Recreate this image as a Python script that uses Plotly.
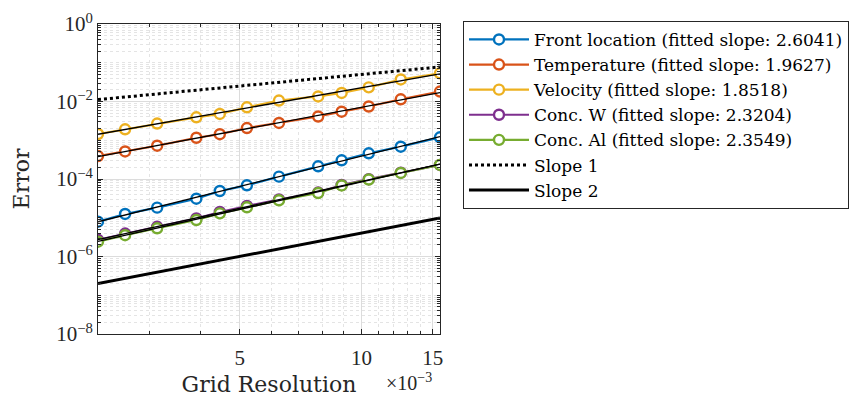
import numpy as np
import plotly.graph_objects as go

# ---------------- data ----------------
grid_N = [448, 384, 320, 256, 224, 192, 160, 128, 112, 96, 80, 64]
grid_h = [1.0 / n for n in grid_N]

front_err = [7.9e-6, 1.25e-5, 1.82e-5, 3.10e-5, 4.90e-5, 6.87e-5, 1.15e-4, 2.13e-4, 3.04e-4, 4.61e-4, 6.82e-4, 1.19e-3]
temp_err = [3.92e-4, 5.13e-4, 7.23e-4, 1.16e-3, 1.43e-3, 2.07e-3, 2.79e-3, 4.10e-3, 5.46e-3, 7.43e-3, 1.14e-2, 1.81e-2]
vel_err = [1.45e-3, 1.92e-3, 2.70e-3, 3.91e-3, 4.76e-3, 7.08e-3, 1.06e-2, 1.35e-2, 1.66e-2, 2.32e-2, 3.70e-2, 5.34e-2]
concW_err = [2.70e-6, 3.92e-6, 5.84e-6, 9.57e-6, 1.41e-5, 2.01e-5, 2.96e-5, 4.48e-5, 7.00e-5, 9.88e-5, 1.46e-4, 2.30e-4]
concAl_err = [2.41e-6, 3.55e-6, 5.35e-6, 8.75e-6, 1.30e-5, 1.86e-5, 2.82e-5, 4.35e-5, 6.80e-5, 9.70e-5, 1.43e-4, 2.30e-4]

series_names = [
    "Front location (fitted slope: 2.6041)",
    "Temperature (fitted slope: 1.9627)",
    "Velocity (fitted slope: 1.8518)",
    "Conc. W (fitted slope: 2.3204)",
    "Conc. Al (fitted slope: 2.3549)",
]
series_colors = ["#0072BD", "#D95319", "#EDB120", "#7E2F8E", "#77AC30"]
series_values = [front_err, temp_err, vel_err, concW_err, concAl_err]

ref_x = [1.0 / 448, 1.0 / 64]
slope1_y = [1.12e-2, 7.8e-2]
slope2_y = [2.0e-7, 9.8e-6]

x_tick_vals = [0.005, 0.010, 0.015]
x_tick_text = ["5", "10", "15"]
y_tick_vals = [1e-8, 1e-6, 1e-4, 1e-2, 1e0]
y_tick_text = ["10<sup>−8</sup>", "10<sup>−6</sup>", "10<sup>−4</sup>", "10<sup>−2</sup>", "10<sup>0</sup>"]

TFONT = "Liberation Serif"
LFONT = "DejaVu Serif"
AXC = "#262626"

fig = go.Figure()

for name, col, vals in zip(series_names, series_colors, series_values):
    fig.add_trace(go.Scatter(
        x=grid_h, y=vals, name=name, mode="lines+markers",
        line=dict(color=col, width=2.2),
        marker=dict(symbol="circle", size=10, color="white", line=dict(color=col, width=2.4)),
    ))

fig.add_trace(go.Scatter(x=ref_x, y=slope1_y, name="Slope 1", mode="lines",
                         line=dict(color="black", width=3, dash="dot")))
fig.add_trace(go.Scatter(x=ref_x, y=slope2_y, name="Slope 2", mode="lines",
                         line=dict(color="black", width=3)))

# fitted lines (log-log least squares from the data)
lx = np.log10(np.array(grid_h))
for vals in series_values:
    p = np.polyfit(lx, np.log10(np.array(vals)), 1)
    fx = np.array([lx.min(), lx.max()])
    fig.add_trace(go.Scatter(x=10 ** fx, y=10 ** np.polyval(p, fx), mode="lines",
                             showlegend=False, hoverinfo="skip",
                             line=dict(color="black", width=1.3)))

x_minor = [k * 1e-3 for k in [3, 4, 6, 7, 8, 9, 11, 12, 13, 14]]
y_minor = []
for e in range(-8, 0):
    for m in range(1, 10):
        if m == 1 and e % 2 == 0:
            continue
        y_minor.append(m * 10.0 ** e)

fig.update_xaxes(
    type="log", range=[np.log10(1 / 448), np.log10(1 / 64)],
    tickvals=x_tick_vals, ticktext=x_tick_text,
    ticks="inside", ticklen=5, tickcolor=AXC, tickwidth=1,
    showline=True, linecolor=AXC, linewidth=1, mirror="ticks",
    showgrid=True, gridcolor="#dcdcdc", gridwidth=1,
    minor=dict(tickvals=x_minor, ticks="inside", ticklen=3, tickcolor=AXC,
               showgrid=True, gridcolor="#e4e4e4", griddash="dot", gridwidth=1),
    tickfont=dict(family=TFONT, size=21, color=AXC),
    ticklabelstandoff=5, automargin=False,
    title=dict(text="Grid Resolution", font=dict(family=LFONT, size=22, color=AXC), standoff=12),
    zeroline=False,
)
fig.update_yaxes(
    type="log", range=[-8, 0],
    tickvals=y_tick_vals, ticktext=y_tick_text,
    ticks="inside", ticklen=5, tickcolor=AXC, tickwidth=1,
    showline=True, linecolor=AXC, linewidth=1, mirror="ticks",
    showgrid=True, gridcolor="#dcdcdc", gridwidth=1,
    minor=dict(tickvals=y_minor, ticks="inside", ticklen=3, tickcolor=AXC,
               showgrid=True, gridcolor="#e4e4e4", griddash="dot", gridwidth=1),
    tickfont=dict(family=TFONT, size=21, color=AXC),
    automargin=False,
    title=dict(text="Error", font=dict(family=LFONT, size=22, color=AXC), standoff=20),
    zeroline=False,
)

fig.add_annotation(text="×10<sup>−3</sup>", xref="paper", yref="paper",
                   x=(409 - 98) / 342, y=-(395 - 334) / 310, xanchor="center", yanchor="bottom",
                   showarrow=False, borderpad=0, font=dict(family=TFONT, size=20, color=AXC))

fig.update_layout(
    width=862, height=397,
    margin=dict(l=98, r=422, t=24, b=63, autoexpand=False),
    paper_bgcolor="white", plot_bgcolor="white",
    legend=dict(x=(463 - 98) / 342, y=1.01, xanchor="left", yanchor="top",
                bordercolor=AXC, borderwidth=1, bgcolor="white",
                font=dict(family=LFONT, size=17, color="black"),
                tracegroupgap=0, itemwidth=60),
    showlegend=True,
)

fig.write_html("out.html")
